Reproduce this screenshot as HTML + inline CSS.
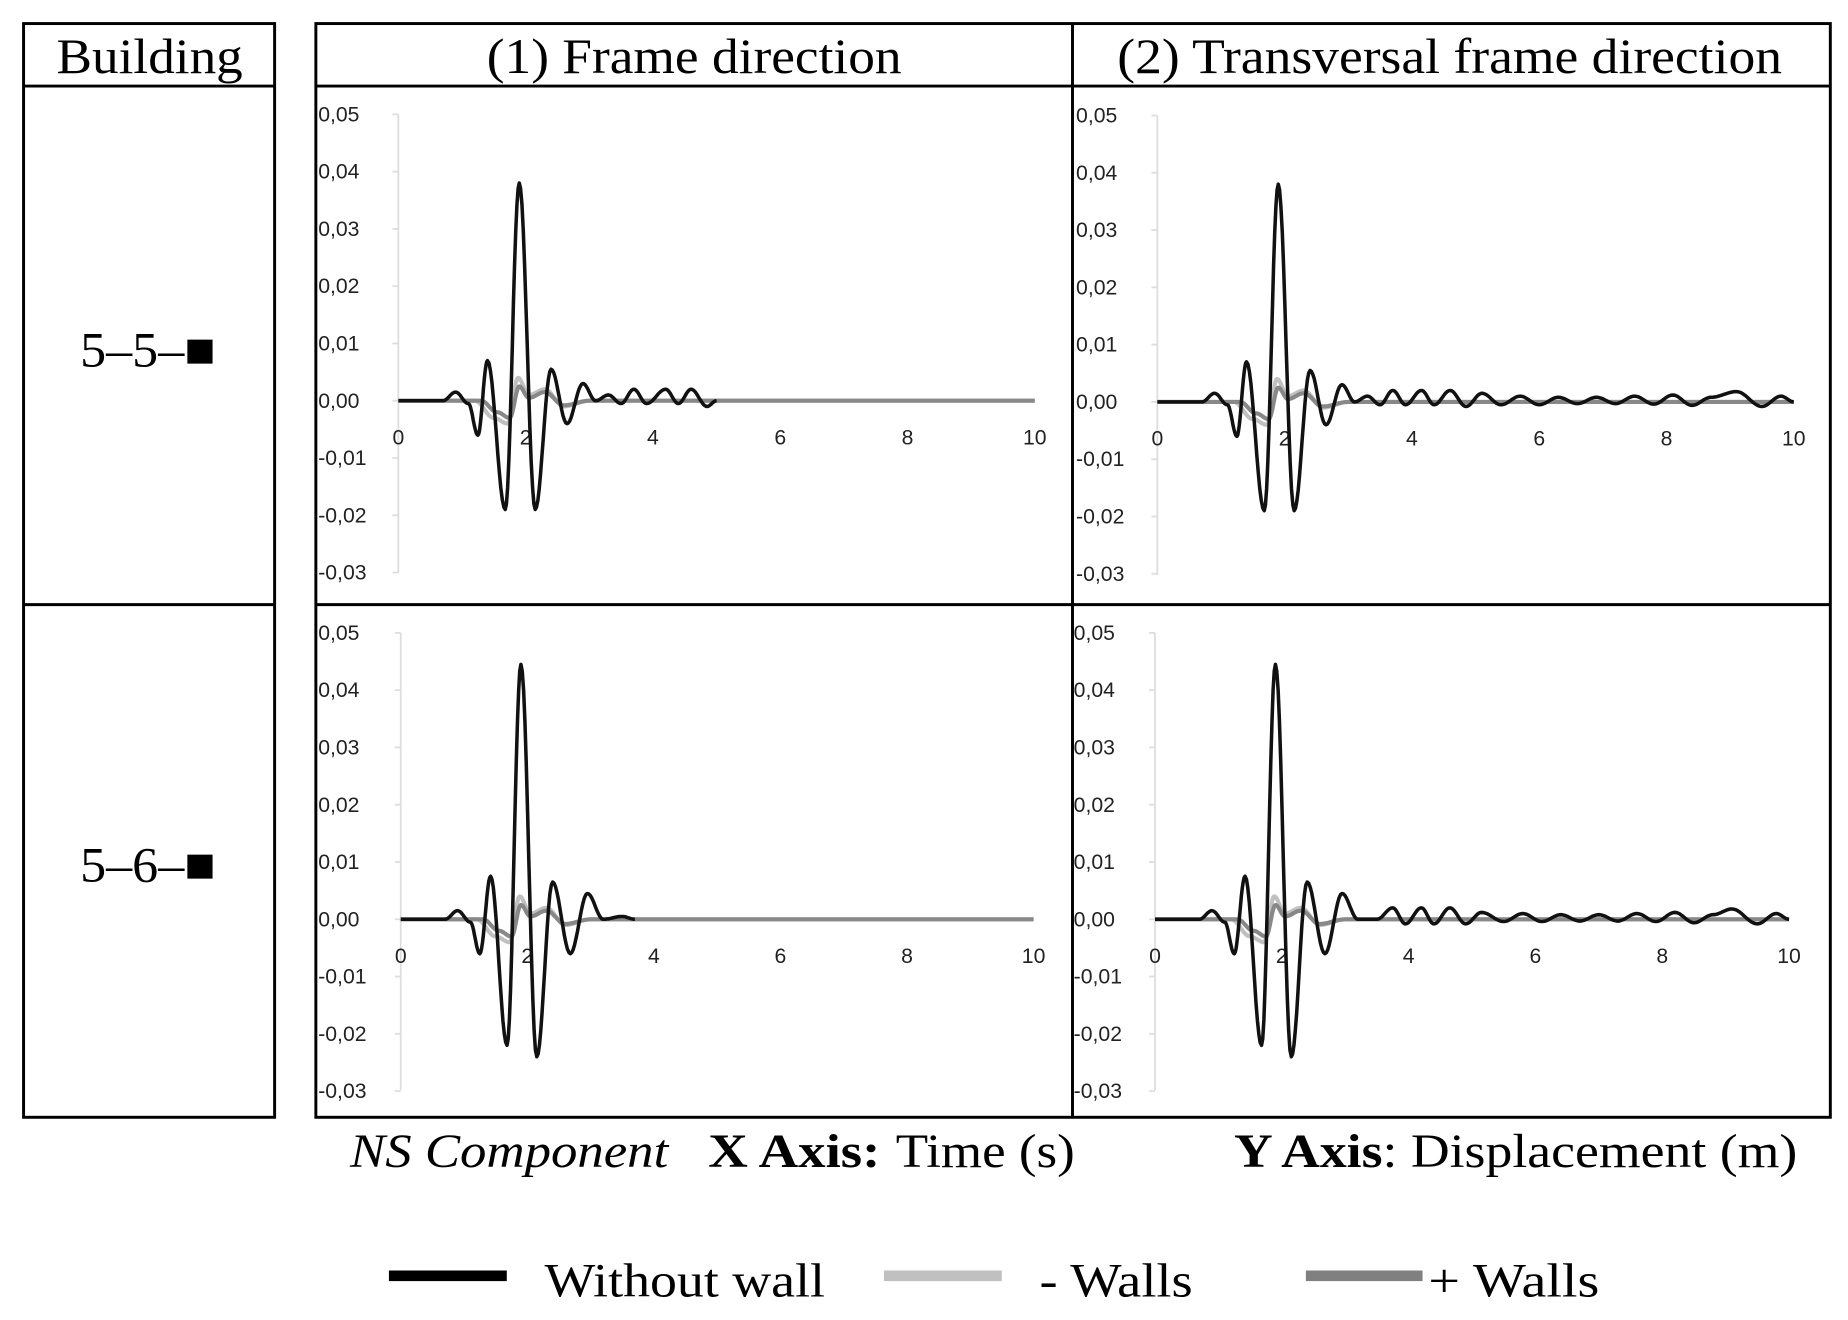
<!DOCTYPE html>
<html><head><meta charset="utf-8"><style>
html,body{margin:0;padding:0;background:#fff;}
svg{display:block;}
text{font-family:"Liberation Serif",serif;}
.ax{font-family:"Liberation Sans",sans-serif;font-size:18px;fill:#222;}
</style></head><body>
<svg id="s" width="1848" height="1320" viewBox="0 0 1568 1120" xmlns="http://www.w3.org/2000/svg">
<rect width="1568" height="1120" fill="#fff"/>
<g fill="none" stroke="#000" stroke-width="2.5">
<rect x="20" y="20" width="213" height="928"/>
<line x1="20" y1="73" x2="233" y2="73"/>
<line x1="20" y1="513" x2="233" y2="513"/>
<rect x="268" y="20" width="1285" height="928"/>
<line x1="268" y1="73" x2="1553" y2="73"/>
<line x1="268" y1="513" x2="1553" y2="513"/>
<line x1="910" y1="20" x2="910" y2="948"/>
</g>
<g font-size="42">
<text x="48" y="62" textLength="158" lengthAdjust="spacingAndGlyphs">Building</text>
<text x="413" y="62" textLength="352" lengthAdjust="spacingAndGlyphs">(1) Frame direction</text>
<text x="948" y="62" textLength="564" lengthAdjust="spacingAndGlyphs">(2) Transversal frame direction</text>
<text x="68" y="311" textLength="115" lengthAdjust="spacingAndGlyphs">5–5–■</text>
<text x="68" y="748" textLength="115" lengthAdjust="spacingAndGlyphs">5–6–■</text>
</g>
<g font-size="40">
<text x="297" y="990" font-style="italic" textLength="270" lengthAdjust="spacingAndGlyphs">NS Component</text>
<text x="601" y="990" font-weight="bold" textLength="146" lengthAdjust="spacingAndGlyphs">X Axis:</text>
<text x="760" y="990" textLength="152" lengthAdjust="spacingAndGlyphs">Time (s)</text>
<text x="1047" y="990" font-weight="bold" textLength="126" lengthAdjust="spacingAndGlyphs">Y Axis</text>
<text x="1173" y="990" textLength="352" lengthAdjust="spacingAndGlyphs">: Displacement (m)</text>
<text x="462" y="1100" textLength="238" lengthAdjust="spacingAndGlyphs">Without wall</text>
<text x="882" y="1100" textLength="130" lengthAdjust="spacingAndGlyphs">- Walls</text>
<text x="1212" y="1100" textLength="145" lengthAdjust="spacingAndGlyphs">+ Walls</text>
</g>
<rect x="330" y="1078" width="100" height="9" fill="#000"/>
<rect x="750" y="1078" width="100" height="9" fill="#c0c0c0"/>
<rect x="1108" y="1078" width="99" height="9" fill="#808080"/>
<g id="charts"></g>
</svg>
<script>
var NS="http://www.w3.org/2000/svg",G=document.getElementById("charts");
function el(n,a,t){var e=document.createElementNS(NS,n);for(var k in a)e.setAttribute(k,a[k]);if(t!==undefined)e.textContent=t;G.appendChild(e);return e;}
function path(ext,ax,ay0,sx,sy,col,w){
 var d="";for(var i=0;i<ext.length-1;i++){var a=ext[i],b=ext[i+1];for(var j=0;j<=12;j++){var f=j/12,t=a[0]+(b[0]-a[0])*f,v=a[1]+(b[1]-a[1])*(1-Math.cos(Math.PI*f))/2;d+=(d?"L":"M")+(ax+t*sx).toFixed(1)+","+(ay0-v*sy).toFixed(1);}}
 el("path",{d:d,fill:"none",stroke:col,"stroke-width":w,"stroke-linejoin":"round"});}
var lightA=[[0,0],[1.2,0],[1.5,-0.003],[1.72,-0.004],[1.88,0.004],[2.05,0.001],[2.3,0.002],[2.6,-0.001],[3,0],[10,0]];
var darkA=[[0,0],[1.3,0],[1.55,-0.002],[1.75,-0.003],[1.9,0.0025],[2.05,0.0005],[2.3,0.0015],[2.6,-0.0008],[3,0],[10,0]];
var core1=[[0,0],[0.7,0],[0.9,0.0015],[1.1,-0.0005],[1.25,-0.006],[1.4,0.007],[1.68,-0.019],[1.9,0.038],[2.15,-0.019],[2.4,0.0055],[2.65,-0.004],[2.9,0.003]];
var p1=core1.concat([[3.1,0],[3.3,0.001],[3.5,-0.0005],[3.7,0.002],[3.9,-0.0005],[4.2,0.002],[4.4,-0.0005],[4.6,0.002],[4.85,-0.001],[5,0]]);
var p2=core1.concat([[3.1,0],[3.3,0.001],[3.5,-0.0005],[3.7,0.002],[3.9,-0.0005],[4.15,0.002],[4.35,-0.0005],[4.6,0.002],[4.85,-0.0008],[5.1,0.0015],[5.4,-0.0005],[5.7,0.001],[6,-0.0005],[6.3,0.0008],[6.6,-0.0003],[6.9,0.0008],[7.2,-0.0003],[7.5,0.001],[7.8,-0.0004],[8.1,0.0012],[8.4,-0.0006],[8.7,0.0008],[9.1,0.0018],[9.5,-0.0008],[9.8,0.001],[10,0]]);
var core2=[[0,0],[0.7,0],[0.9,0.0015],[1.1,-0.0005],[1.25,-0.006],[1.42,0.0075],[1.68,-0.022],[1.9,0.0445],[2.15,-0.024],[2.4,0.0065],[2.68,-0.006],[2.95,0.0045],[3.2,0]];
var p3=core2.concat([[3.5,0.0005],[3.7,0]]);
var p4=core2.concat([[3.5,0],[3.75,0.002],[3.95,-0.0008],[4.2,0.002],[4.4,-0.0008],[4.65,0.002],[4.9,-0.0008],[5.15,0.0012],[5.5,-0.0004],[5.8,0.001],[6.1,-0.0004],[6.4,0.0008],[6.7,-0.0003],[7,0.0008],[7.3,-0.0003],[7.6,0.001],[7.9,-0.0004],[8.2,0.0012],[8.5,-0.0006],[8.8,0.0008],[9.1,0.0018],[9.5,-0.0008],[9.8,0.001],[10,0]]);
var panels=[
 {ax:338,y5:97,y0:340,ym3:486,x10:878,lx:270,xl:377,blk:p1},
 {ax:982,y5:98,y0:341,ym3:488,x10:1522,lx:913,xl:378,blk:p2},
 {ax:340,y5:537,y0:780,ym3:925,x10:877,lx:270,xl:817,blk:p3},
 {ax:980,y5:537,y0:780,ym3:925,x10:1518,lx:911,xl:817,blk:p4}];
panels.forEach(function(p){
 var sy=(p.y0-p.y5)/0.05,sx=(p.x10-p.ax)/10;
 el("line",{x1:p.ax,y1:p.y5,x2:p.ax,y2:p.ym3,stroke:"#ddd","stroke-width":1.5});
 for(var i=5;i>=-3;i--){var y=p.y0-i*0.01*sy;el("line",{x1:p.ax-5,y1:y,x2:p.ax,y2:y,stroke:"#ddd","stroke-width":1.5});
  el("text",{x:p.lx,y:y+6,"class":"ax"},(i<0?"-":"")+"0,0"+Math.abs(i));}
 for(var k=0;k<=10;k+=2){el("text",{x:p.ax+k*sx,y:p.xl,"class":"ax","text-anchor":"middle"},""+k);}
 path(lightA,p.ax,p.y0,sx,sy,"#c0c0c0",3.5);
 path(darkA,p.ax,p.y0,sx,sy,"#888",3.5);
 path(p.blk,p.ax,p.y0,sx,sy,"#111",3);
});
</script>
</body></html>
